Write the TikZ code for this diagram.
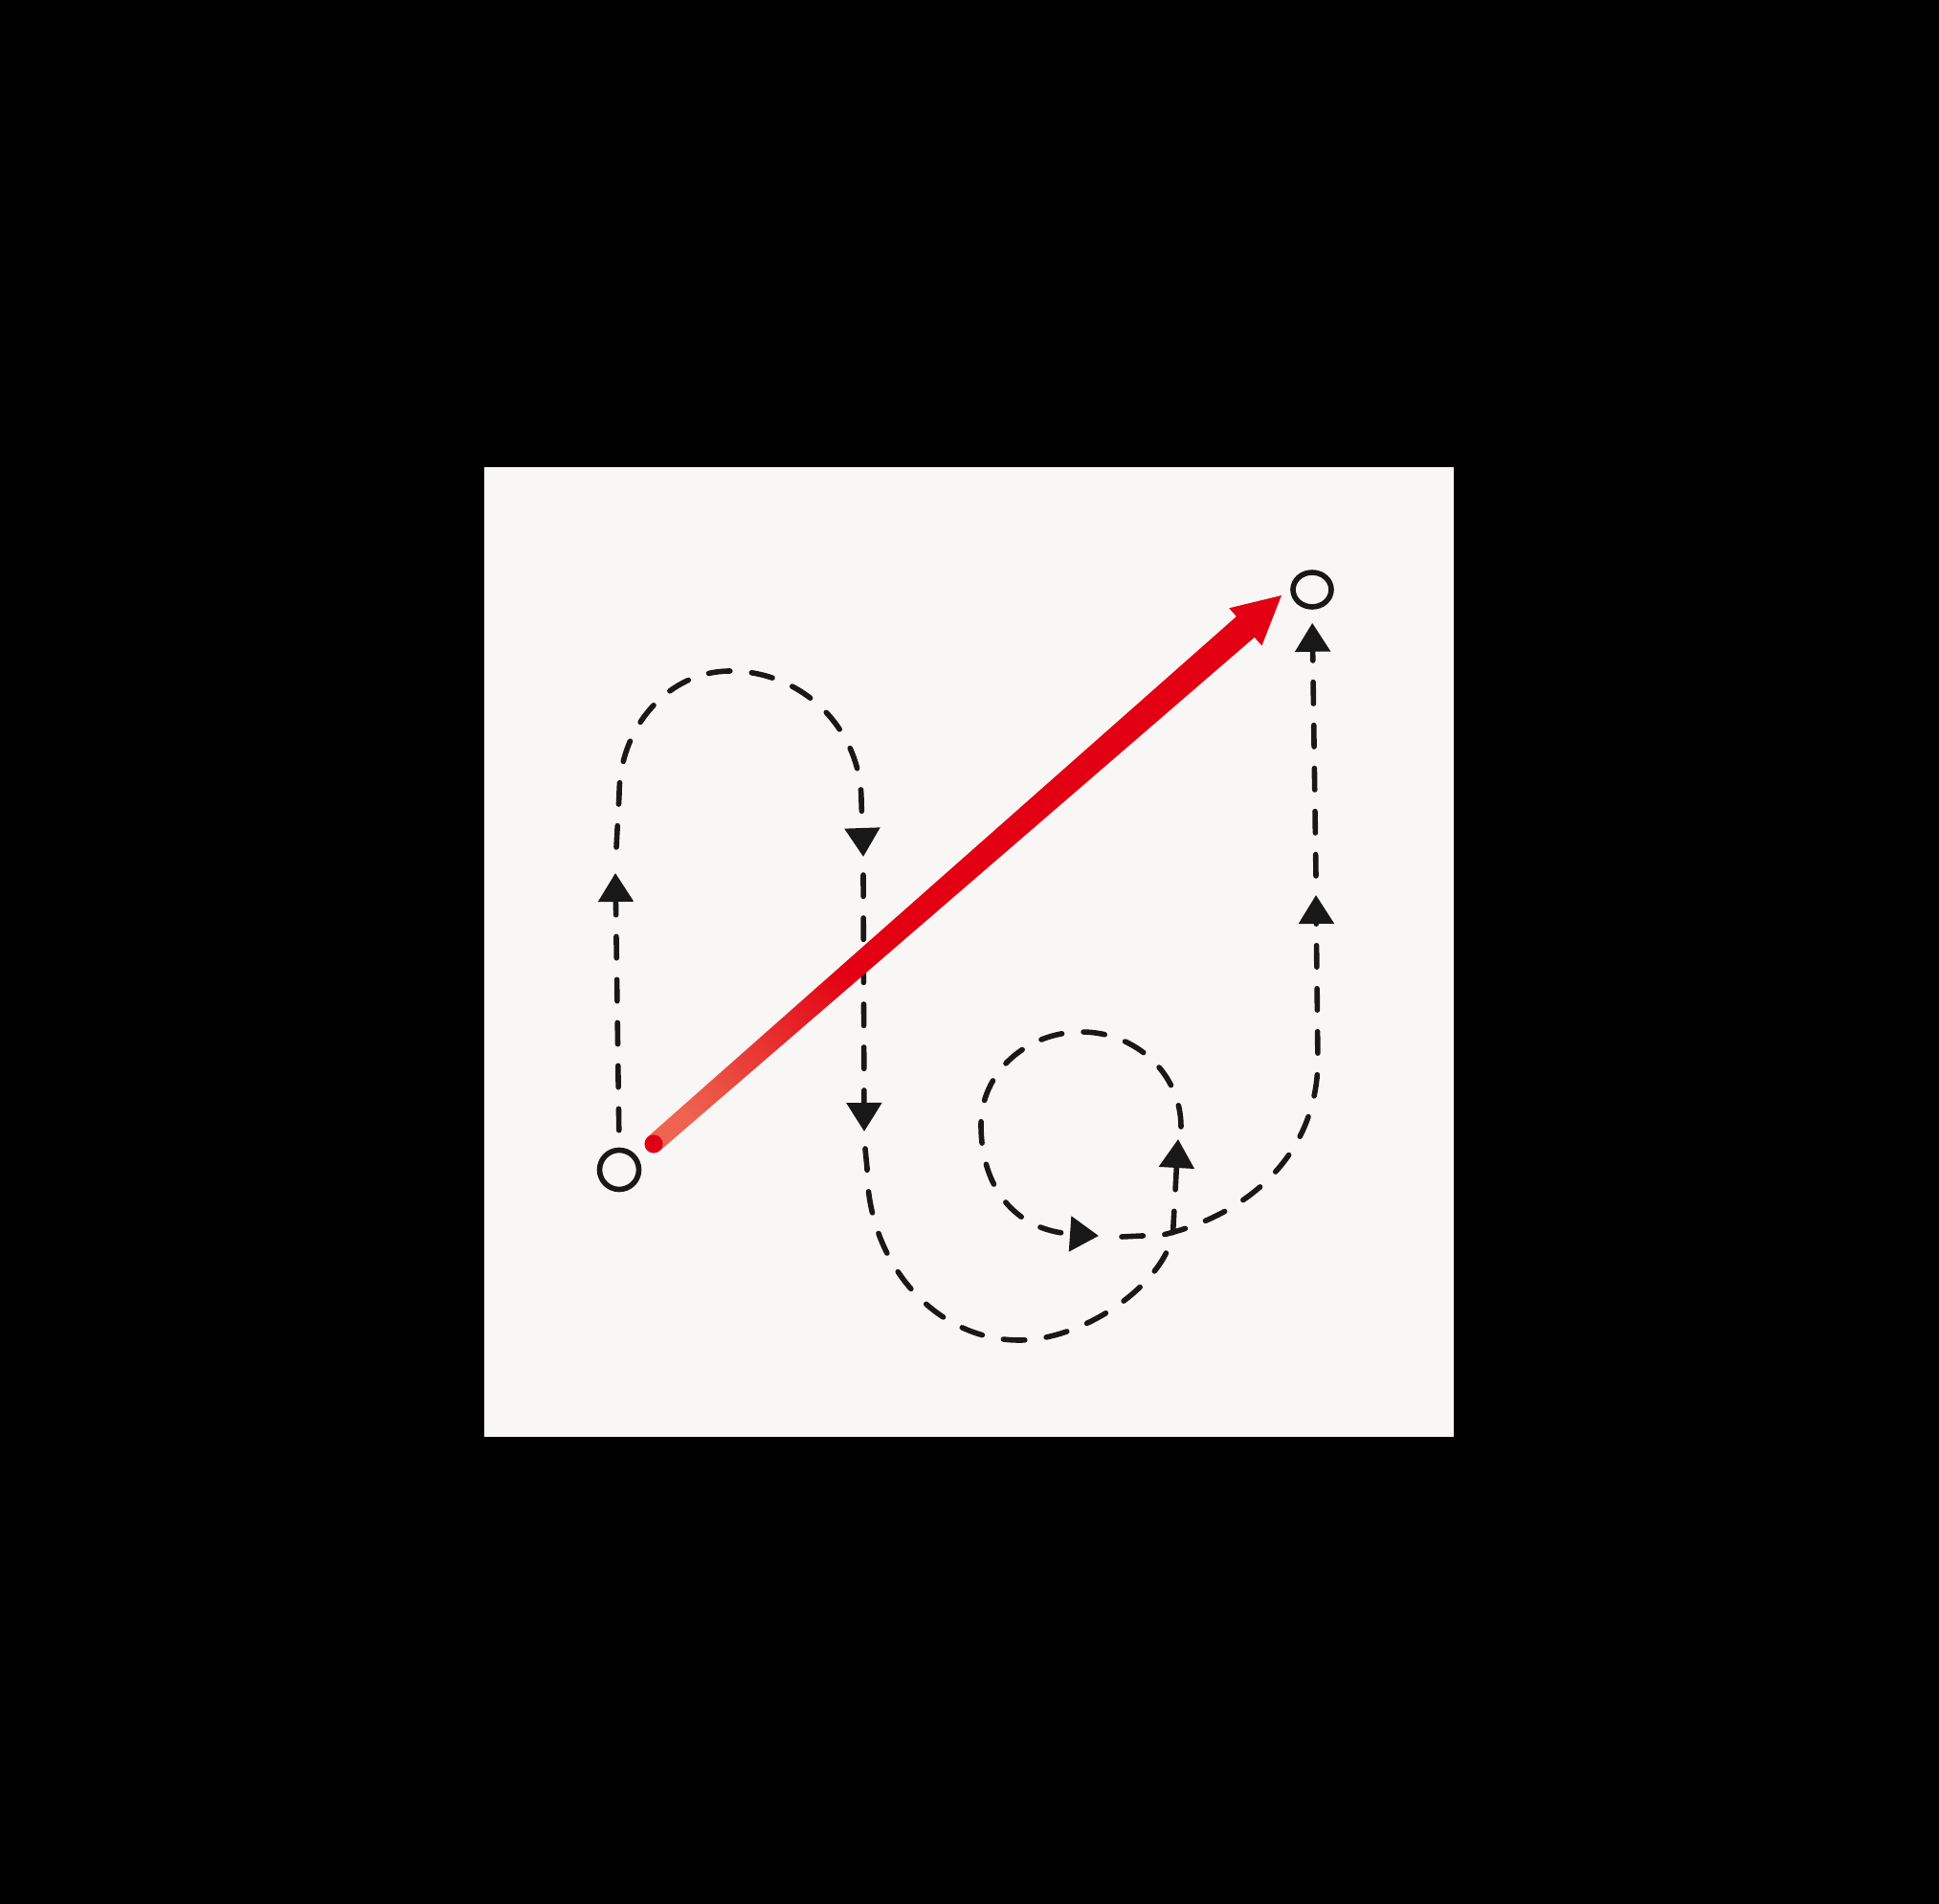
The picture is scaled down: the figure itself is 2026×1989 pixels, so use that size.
\documentclass[tikz,border=0pt]{standalone}
\usetikzlibrary{arrows.meta,calc,shapes.geometric}
\definecolor{paper}{HTML}{F8F7F5}
\definecolor{ink}{HTML}{181818}
\definecolor{redmain}{RGB}{226,0,18}
\definecolor{redlight}{RGB}{238,100,80}
\definecolor{reddark}{RGB}{224,0,20}
\pgfdeclarehorizontalshading{redfade}{100bp}{color(0bp)=(redlight); color(19bp)=(redlight); color(37bp)=(redmain); color(100bp)=(redmain)}
\begin{document}
\begin{tikzpicture}[x=0.5pt,y=-0.5pt,
  flow/.style={draw=ink, line width=2.8pt, line cap=round, dash pattern=on 11.2pt off 11.3pt, -{Triangle[length=15pt,width=18pt]}},
  place/.style={draw=ink, line width=2.8pt, inner sep=0pt}]
\useasboundingbox (0,0) rectangle (2026,1989);
\fill[black] (0,0) rectangle (2026,1989);
\fill[paper] (506,488) rectangle (1519,1501);

% places
\node[place, circle, minimum size=20.5pt] (start) at (647,1222) {};
\node[place, ellipse, minimum width=20pt, minimum height=18pt] (end) at (1371,616) {};

% waypoints of the dashed route
\coordinate (a1) at (643,912);
\coordinate (b0) at (644,885);
\coordinate (b1) at (902,895);
\coordinate (c0) at (902,914);
\coordinate (c1) at (903,1182);
\coordinate (d0) at (904,1200);
\coordinate (d1) at (1231,1190);
\coordinate (e0) at (1234,1177);
\coordinate (e1) at (1148,1291);
\coordinate (f0) at (1172,1292);
\coordinate (f1) at (1375,935);
\coordinate (g0) at (1375,915);

% dashed route
\draw[flow, shorten <=9pt] (start.north) -- (a1);
\draw[flow] (b0) -- (647,830) .. controls (647,759) and (699,701) .. (763,701)
  .. controls (839,701) and (900,762) .. (900,837) -- (b1);
\draw[flow] (c0) -- (c1);
\draw[flow] (d0) -- (906,1220) .. controls (906,1319) and (977,1400) .. (1065,1400)
  .. controls (1137,1400) and (1226,1334) .. (1226,1280) -- (d1);
\draw[flow] (e0) .. controls (1234,1122) and (1187,1078) .. (1130,1078)
  .. controls (1072,1078) and (1025,1121) .. (1025,1175)
  .. controls (1025,1240) and (1060,1285) .. (e1);
\draw[flow] (f0) -- (1215,1290) .. controls (1300,1270) and (1375,1210) .. (1377,1110) -- (f1);
\draw[flow, shorten >=7pt] (g0) -- (end.south);

% red arrow
\coordinate (rt) at (683,1195);
\coordinate (rh) at (1339,622);
\coordinate (rb) at ($(rh)!25pt!(rt)$);
\shade[shading=redfade, shading angle=41.1]
  ($(rt)!4.8pt!90:(rh)$) -- ($(rb)!7.2pt!90:(rh)$) -- ($(rb)!13pt!90:(rh)$) -- (rh)
  -- ($(rb)!13pt!-90:(rh)$) -- ($(rb)!7.2pt!-90:(rh)$) -- ($(rt)!4.8pt!-90:(rh)$) -- cycle;
\fill[reddark] (rt) circle[radius=4.8pt];
\end{tikzpicture}
\end{document}
